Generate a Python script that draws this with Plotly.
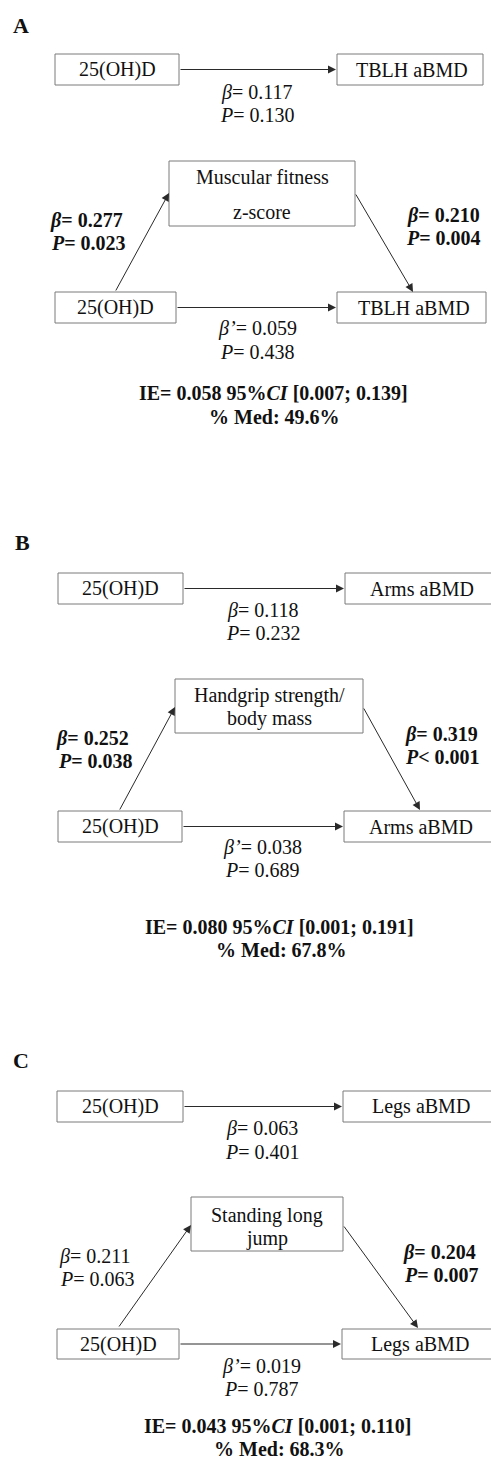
import plotly.graph_objects as go

# ---------------- data ----------------
panel_letters = ["A", "B", "C"]
exposure = ["25(OH)D", "25(OH)D", "25(OH)D"]
outcomes = ["TBLH aBMD", "Arms aBMD", "Legs aBMD"]
mediators = [["Muscular fitness", "z-score"],
             ["Handgrip strength/", "body mass"],
             ["Standing long", "jump"]]
total_beta = ["0.117", "0.118", "0.063"]
total_p = ["0.130", "0.232", "0.401"]
a_beta = ["0.277", "0.252", "0.211"]
a_p = ["= 0.023", "= 0.038", "= 0.063"]
a_bold = [True, True, False]
b_beta = ["0.210", "0.319", "0.204"]
b_p = ["= 0.004", "< 0.001", "= 0.007"]
b_bold = [True, True, True]
direct_beta = ["0.059", "0.038", "0.019"]
direct_p = ["0.438", "0.689", "0.787"]
ie_vals = ["0.058", "0.080", "0.043"]
ci_low = ["0.007", "0.001", "0.001"]
ci_high = ["0.139", "0.191", "0.110"]
pct_med = ["49.6", "67.8", "68.3"]

# ---------------- layout (pixel positions) ----------------
geo = [
    dict(letter=(21, 25),
         top_l=(55, 54, 179, 85), top_r=(337, 54, 483, 85), top_lbl=(257, 92, 115),
         med=(169, 161, 355, 226), med_y=(177, 212),
         bot_l=(55, 292, 176, 323), bot_r=(337, 292, 486, 323), bot_lbl=(257, 328, 352),
         a_arr=(115, 292, 169, 193), b_arr=(355, 193, 413, 292),
         a_lbl=((86, 220), (88, 243)), b_lbl=((443, 215), (443, 238)),
         ie=((273, 393), (274, 417))),
    dict(letter=(22, 542),
         top_l=(58, 573, 183, 604), top_r=(345, 573, 494, 604), top_lbl=(263, 610, 633),
         med=(175, 679, 363, 733), med_y=(695, 718),
         bot_l=(58, 811, 182, 842), bot_r=(344, 811, 494, 842), bot_lbl=(262, 847, 870),
         a_arr=(119, 811, 175, 707), b_arr=(363, 707, 420, 810),
         a_lbl=((92, 738), (95, 761)), b_lbl=((441, 734), (442, 757)),
         ie=((279, 927), (281, 950))),
    dict(letter=(21, 1060),
         top_l=(57, 1091, 183, 1122), top_r=(343, 1091, 494, 1122), top_lbl=(262, 1128, 1152),
         med=(191, 1197, 343, 1251), med_y=(1215, 1238),
         bot_l=(57, 1329, 179, 1359), bot_r=(342, 1329, 494, 1359), bot_lbl=(261, 1366, 1389),
         a_arr=(118, 1328, 191, 1225), b_arr=(343, 1225, 418, 1328),
         a_lbl=((95, 1256), (97, 1279)), b_lbl=((439, 1252), (441, 1275)),
         ie=((278, 1426), (279, 1449))),
]

FONT = "Liberation Serif, Times New Roman, serif"
FS = 20
TXT = "#111111"
BOX = "#7a7a7a"
ARR = "#2a2a2a"

fig = go.Figure()
shapes = []
annotations = []


def box(x0, y0, x1, y1):
    shapes.append(dict(type="rect", xref="x", yref="y", x0=x0, y0=y0, x1=x1, y1=y1,
                       line=dict(color=BOX, width=1), fillcolor="white", layer="above"))


def text(x, y, s, size=FS):
    annotations.append(dict(x=x, y=y, xref="x", yref="y", text=s, showarrow=False,
                            xanchor="center", yanchor="middle", borderpad=0,
                            font=dict(family=FONT, size=size, color=TXT)))


def arrow(x0, y0, x1, y1):
    annotations.append(dict(x=x1, y=y1, ax=x0, ay=y0, xref="x", yref="y", axref="x", ayref="y",
                            text="", showarrow=True, arrowhead=2, arrowsize=1.6, arrowwidth=1,
                            arrowcolor=ARR, standoff=0, startstandoff=0))


def center(b):
    return ((b[0] + b[2]) / 2, (b[1] + b[3]) / 2)


for i, g in enumerate(geo):
    text(g["letter"][0], g["letter"][1], "<b>%s</b>" % panel_letters[i], size=22)

    # total effect model
    box(*g["top_l"]); box(*g["top_r"])
    cx, cy = center(g["top_l"]); text(cx, cy, exposure[i])
    cx, cy = center(g["top_r"]); text(cx + 2, cy, outcomes[i])
    arrow(g["top_l"][2], cy, g["top_r"][0] - 1, cy)
    text(g["top_lbl"][0], g["top_lbl"][1], "<i>β</i>= " + total_beta[i])
    text(g["top_lbl"][0], g["top_lbl"][2], "<i>P</i>= " + total_p[i])

    # mediation model
    box(*g["med"])
    mx = (g["med"][0] + g["med"][2]) / 2
    text(mx, g["med_y"][0], mediators[i][0])
    text(mx, g["med_y"][1], mediators[i][1])
    box(*g["bot_l"]); box(*g["bot_r"])
    cx, cy = center(g["bot_l"]); text(cx, cy, exposure[i])
    cx, cy = center(g["bot_r"]); text(cx + 2, cy, outcomes[i])
    arrow(g["bot_l"][2], cy, g["bot_r"][0] - 1, cy)
    arrow(*g["a_arr"])
    arrow(*g["b_arr"])

    def lab(pos, s, bold):
        text(pos[0], pos[1], "<b>%s</b>" % s if bold else s)

    lab(g["a_lbl"][0], "<i>β</i>= " + a_beta[i], a_bold[i])
    lab(g["a_lbl"][1], "<i>P</i>" + a_p[i], a_bold[i])
    lab(g["b_lbl"][0], "<i>β</i>= " + b_beta[i], b_bold[i])
    lab(g["b_lbl"][1], "<i>P</i>" + b_p[i], b_bold[i])

    text(g["bot_lbl"][0], g["bot_lbl"][1], "<i>β’</i>= " + direct_beta[i])
    text(g["bot_lbl"][0], g["bot_lbl"][2], "<i>P</i>= " + direct_p[i])

    text(g["ie"][0][0], g["ie"][0][1],
         "<b>IE= %s 95%%<i>CI</i> [%s; %s]</b>" % (ie_vals[i], ci_low[i], ci_high[i]))
    text(g["ie"][1][0], g["ie"][1][1], "<b>%% Med: %s%%</b>" % pct_med[i])

fig.update_layout(
    width=491, height=1461,
    margin=dict(l=0, r=0, t=0, b=0),
    paper_bgcolor="white", plot_bgcolor="white",
    xaxis=dict(range=[0, 491], visible=False, fixedrange=True),
    yaxis=dict(range=[1461, 0], visible=False, fixedrange=True),
    shapes=shapes, annotations=annotations, showlegend=False,
)
fig.write_html("out.html")
